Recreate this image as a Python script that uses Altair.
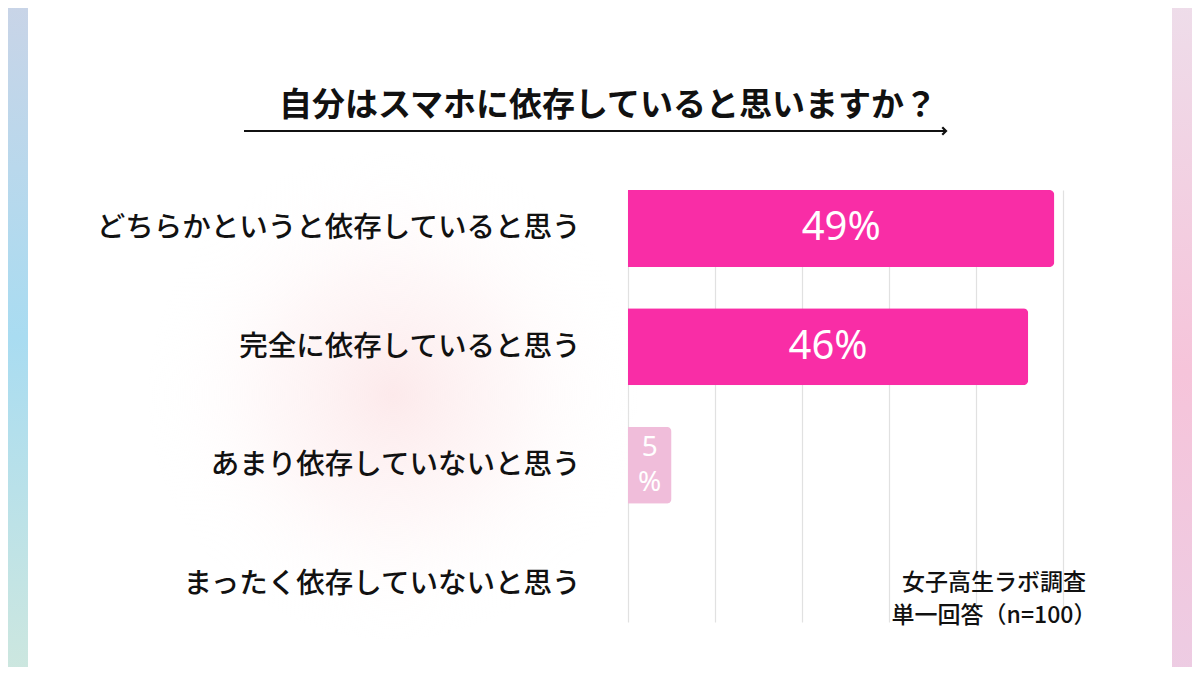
import altair as alt
import pandas as pd

# ---- data ----
categories = [
    "どちらかというと依存していると思う",
    "完全に依存していると思う",
    "あまり依存していないと思う",
    "まったく依存していないと思う",
]
values = [49, 46, 5, 0]
grid_values = [0, 10, 20, 30, 40, 50]
title_text = "自分はスマホに依存していると思いますか？"
source_lines = ["女子高生ラボ調査", "単一回答（n=100）"]

df = pd.DataFrame({"category": categories, "value": values})
one = pd.DataFrame({"k": [0]})

FONT = "Noto Sans CJK JP"
MAGENTA = "#F92DA6"
LIGHT = "#F0BDDA"
INK = "#111111"

x_scale = alt.Scale(domain=[0, 50], nice=False, zero=True)
y_scale = alt.Scale(domain=categories, paddingInner=0.35, paddingOuter=0)

x_axis = alt.Axis(
    title=None, values=grid_values, labels=False, ticks=False, domain=False,
    grid=True, gridColor="#E1E1E1", gridWidth=1.2, zindex=0,
)
y_axis = alt.Axis(
    title=None, domain=False, ticks=False, grid=False, labelFontSize=28.5, labelFont=FONT,
    labelFontWeight=500, labelColor=INK, labelPadding=48, labelLimit=700, zindex=2,
)

# ---- decorations ----
left_strip = alt.Chart(one).mark_rect(
    fill=alt.Gradient(
        gradient="linear",
        stops=[
            alt.GradientStop(color="#C9D4E7", offset=0),
            alt.GradientStop(color="#A9DCF1", offset=0.5),
            alt.GradientStop(color="#CDE7DF", offset=1),
        ],
        x1=0, y1=0, x2=0, y2=1,
    )
).encode(x=alt.value(-628), x2=alt.value(-600), y=alt.value(-190), y2=alt.value(485))

right_strip = alt.Chart(one).mark_rect(
    fill=alt.Gradient(
        gradient="linear",
        stops=[
            alt.GradientStop(color="#EEDDEA", offset=0),
            alt.GradientStop(color="#F6C4DA", offset=0.55),
            alt.GradientStop(color="#EDCCE3", offset=1),
        ],
        x1=0, y1=0, x2=0, y2=1,
    )
).encode(x=alt.value(544), x2=alt.value(580), y=alt.value(-190), y2=alt.value(485))

glow = alt.Chart(one).mark_circle(
    size=240000,
    opacity=1,
    fill=alt.Gradient(
        gradient="radial",
        stops=[
            alt.GradientStop(color="rgba(250,212,215,0.5)", offset=0),
            alt.GradientStop(color="rgba(252,228,230,0.28)", offset=0.5),
            alt.GradientStop(color="rgba(255,255,255,0)", offset=1),
        ],
    ),
).encode(x=alt.value(-235), y=alt.value(205))

# ---- bars ----
bars = alt.Chart(df).mark_bar(cornerRadiusEnd=5).encode(
    x=alt.X("value:Q", scale=x_scale, axis=x_axis),
    y=alt.Y("category:N", sort=categories, scale=y_scale, axis=y_axis),
    color=alt.condition("datum.value >= 10", alt.value(MAGENTA), alt.value(LIGHT)),
)

big_labels = alt.Chart(df).transform_filter("datum.value >= 10").transform_calculate(
    mid="datum.value / 2", label="datum.value + '%'"
).mark_text(font="Noto Sans", fontSize=40, color="white", align="center", baseline="middle").encode(
    x=alt.X("mid:Q", scale=x_scale, axis=x_axis),
    y=alt.Y("category:N", sort=categories, scale=y_scale, axis=y_axis),
    text="label:N",
)

small_labels = alt.Chart(df).transform_filter("datum.value > 0 && datum.value < 10").transform_calculate(
    mid="datum.value / 2", label="datum.value + '|%'"
).mark_text(
    font="Noto Sans", fontSize=28, color="white", align="center", baseline="middle",
    lineBreak="|", lineHeight=35, dy=-17,
).encode(
    x=alt.X("mid:Q", scale=x_scale, axis=x_axis),
    y=alt.Y("category:N", sort=categories, scale=y_scale, axis=y_axis),
    text="label:N",
)

# ---- title with arrow ----
title = alt.Chart(one).mark_text(
    text=title_text, font=FONT, fontSize=33, fontWeight="bold", color=INK,
    align="center", baseline="middle",
).encode(x=alt.value(-20), y=alt.value(-84))

arrow_line = alt.Chart(one).mark_rule(color=INK, strokeWidth=2.2).encode(
    x=alt.value(-384), x2=alt.value(317), y=alt.value(-59)
)
arrow_head = alt.Chart(one).mark_point(
    shape="M -1 -1 L 0 0 L -1 1", filled=False, size=56, strokeWidth=2.2, color=INK, opacity=1
).encode(x=alt.value(318), y=alt.value(-59))

source = alt.Chart(one).mark_text(
    text=source_lines, font=FONT, fontSize=23, fontWeight=500, color=INK,
    align="center", baseline="middle", lineHeight=33,
).encode(x=alt.value(366), y=alt.value(393))

chart = alt.layer(
    left_strip, right_strip, glow, bars, big_labels, small_labels,
    title, arrow_line, arrow_head, source,
).properties(
    width=435,
    height=432,
    padding={"left": 620, "top": 182, "right": 129, "bottom": 45},
    autosize=alt.AutoSizeParams(type="none"),
    background="white",
).configure_view(strokeWidth=0)

chart.save("out.html", embed_options={"renderer": "svg", "actions": False})
